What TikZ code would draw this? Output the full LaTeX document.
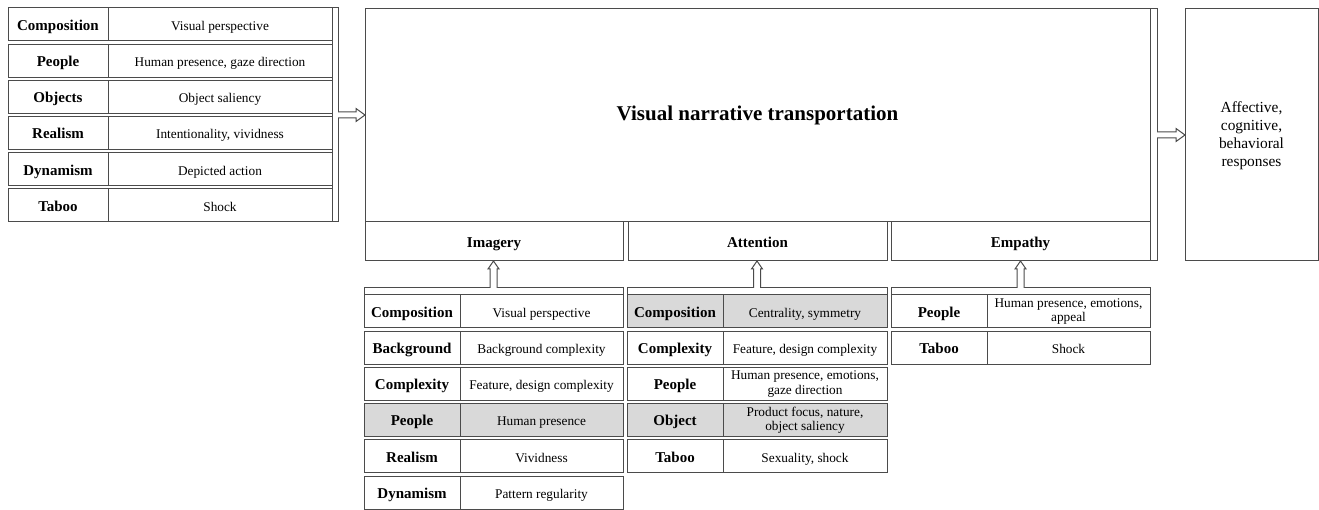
\documentclass[tikz,border=0pt]{standalone}
\usepackage{fontspec}
\setmainfont{Liberation Serif}
\usetikzlibrary{calc}
\definecolor{ln}{RGB}{75,75,75}
\definecolor{cellgray}{RGB}{217,217,217}
\tikzset{
  box/.style={draw=ln, line width=1pt, inner sep=1pt, outer sep=0pt, anchor=north west, align=center},
  oneline/.style={text height=12.6pt, text depth=1pt},
  twoline/.style={text height={}, text depth={}},
  lab/.style={box, oneline, font=\fontsize{15}{17}\selectfont\bfseries},
  dsc/.style={box, oneline, font=\fontsize{13.3}{14.6}\selectfont},
  shaded/.style={fill=cellgray},
  arrline/.style={draw=ln, line width=1pt, line join=miter},
}
% table row: #1 name, #2 x, #3 y, #4 label width, #5 desc width, #6 extra style,
% #7 label, #8 desc, #9 extra desc style
\newcommand\trow[9]{%
  \node[lab,#6,minimum width=#4pt,minimum height=33pt] (#1l) at (#2,#3) {#7};
  \node[dsc,#6,#9,minimum width=#5pt,minimum height=33pt] (#1d) at (#1l.north east) {#8};
}
% hollow horizontal arrow from #1 to #2
\newcommand\harrow[2]{%
  \fill[white] let \p1=(#1), \p2=(#2) in
    (\x1-0.8pt,\y1+3pt) -- (\x2-9pt,\y1+3pt) -- (\x2-9pt,\y1+6.5pt) -- (\x2,\y1)
    -- (\x2-9pt,\y1-6.5pt) -- (\x2-9pt,\y1-3pt) -- (\x1-0.8pt,\y1-3pt) -- cycle;
  \draw[arrline] let \p1=(#1), \p2=(#2) in
    (\x1,\y1+3pt) -- (\x2-9pt,\y1+3pt) -- (\x2-9pt,\y1+6.5pt) -- (\x2,\y1)
    -- (\x2-9pt,\y1-6.5pt) -- (\x2-9pt,\y1-3pt) -- (\x1,\y1-3pt);
}
% hollow upward arrow from #1 to #2
\newcommand\varrow[2]{%
  \fill[white] let \p1=(#1), \p2=(#2) in
    (\x1+3.5pt,\y1-0.8pt) -- (\x1+3.5pt,\y2-8pt) -- (\x1+5.5pt,\y2-8pt) -- (\x1,\y2)
    -- (\x1-5.5pt,\y2-8pt) -- (\x1-3.5pt,\y2-8pt) -- (\x1-3.5pt,\y1-0.8pt) -- cycle;
  \draw[arrline] let \p1=(#1), \p2=(#2) in
    (\x1+3.5pt,\y1) -- (\x1+3.5pt,\y2-8pt) -- (\x1+5.5pt,\y2-8pt) -- (\x1,\y2)
    -- (\x1-5.5pt,\y2-8pt) -- (\x1-3.5pt,\y2-8pt) -- (\x1-3.5pt,\y1);
}
\begin{document}
\begin{tikzpicture}[x=1pt,y=-1pt]
\useasboundingbox (0,0) rectangle (1319,510);

% left table
\trow{La}{8}{8}{100}{224}{}{Composition}{Visual perspective}{}
\trow{Lb}{8}{44.2}{100}{224}{}{People}{Human presence, gaze direction}{}
\trow{Lc}{8}{80.4}{100}{224}{}{Objects}{Object saliency}{}
\trow{Ld}{8}{116.6}{100}{224}{}{Realism}{Intentionality, vividness}{}
\trow{Le}{8}{152.8}{100}{224}{}{Dynamism}{Depicted action}{}
\trow{Lf}{8}{189}{100}{224}{}{Taboo}{Shock}{}
\node[box, minimum width=6pt, minimum height=214pt] (lbar) at (332,8) {};

% main box
\node[box, minimum width=785pt, minimum height=213pt, font=\fontsize{21}{25}\selectfont\bfseries] (main) at (365,9) {Visual narrative transportation};
\node[lab, minimum width=258pt, minimum height=39pt] (img) at (365,222) {Imagery};
\node[lab, minimum width=259pt, minimum height=39pt] (att) at (628,222) {Attention};
\node[lab, minimum width=259pt, minimum height=39pt] (emp) at (891,222) {Empathy};
\node[box, minimum width=7pt, minimum height=252pt] (rbar) at (1150,9) {};

% responses
\node[box, minimum width=133pt, minimum height=252pt, font=\fontsize{15.4}{18.3}\selectfont] (resp) at (1185,9) {\rule{0pt}{3pt}\\[-9pt]Affective,\\cognitive,\\behavioral\\responses};

% strips
\node[box, minimum width=259pt, minimum height=6.5pt] (simg) at (364,288) {};
\node[box, minimum width=260pt, minimum height=6.5pt] (satt) at (627,288) {};
\node[box, minimum width=259pt, minimum height=6.5pt] (semp) at (891,288) {};

% imagery table
\trow{Ia}{364}{295}{96}{163}{}{Composition}{Visual perspective}{}
\trow{Ib}{364}{331.2}{96}{163}{}{Background}{Background complexity}{}
\trow{Ic}{364}{367.4}{96}{163}{}{Complexity}{Feature, design complexity}{}
\trow{Id}{364}{403.6}{96}{163}{shaded}{People}{Human presence}{}
\trow{Ie}{364}{439.8}{96}{163}{}{Realism}{Vividness}{}
\trow{If}{364}{476}{96}{163}{}{Dynamism}{Pattern regularity}{}

% attention table
\trow{Aa}{627}{295}{96}{164}{shaded}{Composition}{Centrality, symmetry}{}
\trow{Ab}{627}{331.2}{96}{164}{}{Complexity}{Feature, design complexity}{}
\trow{Ac}{627}{367.4}{96}{164}{}{People}{Human presence, emotions,\\gaze direction}{twoline}
\trow{Ad}{627}{403.6}{96}{164}{shaded}{Object}{Product focus, nature,\\object saliency}{twoline}
\trow{Ae}{627}{439.8}{96}{164}{}{Taboo}{Sexuality, shock}{}

% empathy table
\trow{Ea}{891}{295}{96}{163}{}{People}{Human presence, emotions,\\appeal}{twoline}
\trow{Eb}{891}{331.2}{96}{163}{}{Taboo}{Shock}{}

% arrows
\harrow{lbar.east}{main.west}
\harrow{rbar.east}{resp.west}
\varrow{simg.north}{img.south}
\varrow{satt.north}{att.south}
\varrow{semp.north}{emp.south}
\end{tikzpicture}
\end{document}
